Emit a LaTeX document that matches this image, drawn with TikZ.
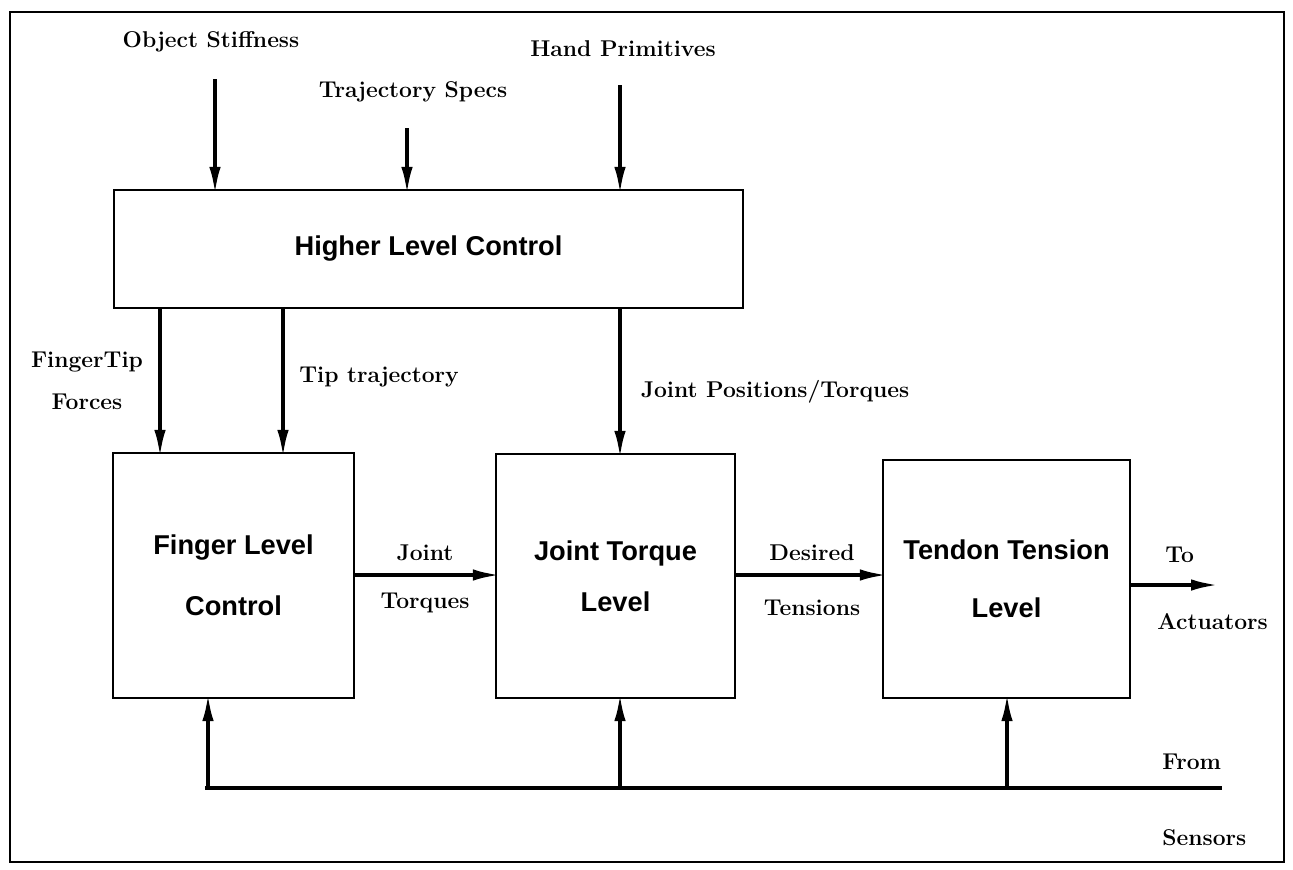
\documentclass[tikz,border=0pt]{standalone}
\usepackage{fontspec}
\setsansfont{Liberation Sans}
\usetikzlibrary{arrows.meta}
\newcommand{\LabelSize}{\fontsize{13}{15}\selectfont}
\newcommand{\BoxSize}{\fontsize{15.5}{33}\selectfont}

\begin{document}
\begin{tikzpicture}[x=0.02cm,y=-0.02cm,
  block/.style={draw,line width=1.4pt,align=center,inner sep=0pt,font=\BoxSize\sffamily\bfseries},
  lbl/.style={align=center,inner sep=0pt,font=\LabelSize\bfseries},
  flow/.style={line width=2.2pt,shorten >=-3.5pt,-{Latex[length=16pt,width=6.5pt]}}]
\useasboundingbox (0,0) rectangle (1293,869);
\draw[line width=1.1pt] (10,12) rectangle (1284,862);% frame

% blocks
\node[block,minimum width=12.58cm,minimum height=2.36cm] (hlc) at (428.5,249) {Higher Level Control};
\node[block,minimum width=4.82cm,minimum height=4.9cm] (flc) at (233.5,575.5) {Finger Level\\[2pt]Control};
\node[block,minimum width=4.78cm,minimum height=4.88cm] (jtl) at (615.5,576) {Joint Torque\\[-4pt]Level};
\node[block,minimum width=4.94cm,minimum height=4.76cm] (ttl) at (1006.5,579) {Tendon Tension\\Level};

% inputs from above
\coordinate (os) at (215,79);
\coordinate (ts) at (407,128);
\coordinate (hp) at (620,85);
\node[lbl] (osl) at (211,42) {Object Stiffness};
\node[lbl] (tsl) at (413,92) {Trajectory Specs};
\node[lbl] (hpl) at (623,49) {Hand Primitives};
\draw[flow] (os) -- (os |- hlc.north);
\draw[flow] (ts) -- (ts |- hlc.north);
\draw[flow] (hp) -- (hp |- hlc.north);

% higher level down to the blocks
\coordinate (ft) at (160,0);
\coordinate (tt) at (283,0);
\coordinate (jp) at (620,0);
\draw[flow] (hlc.south -| ft) -- (flc.north -| ft);
\draw[flow] (hlc.south -| tt) -- (flc.north -| tt);
\draw[flow] (hlc.south -| jp) -- (jtl.north -| jp);
\node[lbl] (ftl) at (87,381) {FingerTip\\[9pt]Forces};
\node[lbl] (ttl2) at (379,377) {Tip trajectory};
\node[lbl] (jpl) at (775,392) {Joint Positions/Torques};

% left to right
\coordinate (jt) at (0,575);
\coordinate (dt) at (0,575);
\coordinate (ta) at (1213,585);
\draw[flow] (flc.east |- jt) -- (jtl.west |- jt);
\draw[flow] (jtl.east |- dt) -- (ttl.west |- dt);
\draw[flow] (ttl.east |- ta) -- (ta);
\node[lbl] (jtq) at (425,579) {Joint\\[12pt]Torques};
\node[lbl] (dtn) at (812,580) {Desired\\[16pt]Tensions};
\node[lbl,align=left,anchor=west] (tal) at (1157,588) {\hspace*{4.5pt}To\\[23pt]Actuators};

% sensor feedback
\coordinate (busL) at (205,788);
\coordinate (busR) at (1222,788);
\coordinate (fbA) at (208,788);
\coordinate (fbB) at (620,788);
\coordinate (fbC) at (1007,788);
\draw[line width=2.2pt] (busL) -- (busR);
\draw[flow] (fbA) -- (fbA |- flc.south);
\draw[flow] (fbB) -- (fbB |- jtl.south);
\draw[flow] (fbC) -- (fbC |- ttl.south);
\node[lbl,align=left,anchor=west] (fsl) at (1162,800) {From\\[28pt]Sensors};
\end{tikzpicture}
\end{document}
